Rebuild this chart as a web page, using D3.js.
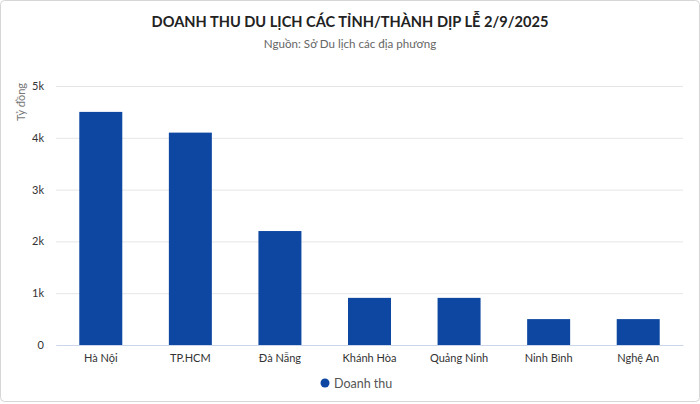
<!DOCTYPE html>
<html>
<head>
<meta charset="utf-8">
<script src="https://cdn.jsdelivr.net/npm/d3@7"></script>
<style>
  html, body { margin: 0; padding: 0; background: #fff; }
  body { width: 700px; height: 404px; overflow: hidden; }
  svg { display: block; font-family: Lato, "Noto Sans", sans-serif; }
</style>
</head>
<body>
<svg id="chart" width="700" height="404"></svg>
<script>
// Chart data.
const provinces = ["Hà Nội", "TP.HCM", "Đà Nẵng", "Khánh Hòa", "Quảng Ninh", "Ninh Bình", "Nghệ An"];
const revenue = [4500, 4100, 2200, 910, 910, 500, 500];
const yTicks = [0, 1000, 2000, 3000, 4000, 5000];
const seriesName = "Doanh thu";

const width = 700, height = 404;
const margin = { top: 86, right: 17, bottom: 59, left: 56 };

const svg = d3.select("#chart");

// Card frame around the whole chart.
svg.append("rect")
  .attr("x", 0.5).attr("y", 0.5)
  .attr("width", width - 1).attr("height", height - 3)
  .attr("rx", 4)
  .attr("fill", "#fff")
  .attr("stroke", "#d6d6d6");

svg.append("text")
  .attr("x", width / 2).attr("y", 27)
  .attr("text-anchor", "middle")
  .attr("font-size", 14.6).attr("font-weight", "bold")
  .attr("fill", "#222")
  .text("DOANH THU DU LỊCH CÁC TỈNH/THÀNH DỊP LỄ 2/9/2025");

svg.append("text")
  .attr("x", width / 2).attr("y", 48)
  .attr("text-anchor", "middle")
  .attr("font-size", 11.6)
  .attr("fill", "#666")
  .text("Nguồn: Sở Du lịch các địa phương");

const x = d3.scaleBand()
  .domain(provinces)
  .range([margin.left, width - margin.right])
  .paddingInner(0.52)
  .paddingOuter(0.26);

const y = d3.scaleLinear()
  .domain([0, 5000])
  .range([height - margin.bottom, margin.top]);

// Gridlines and y labels.
const yAxis = svg.append("g")
  .attr("transform", "translate(" + margin.left + ",0)")
  .call(d3.axisLeft(y)
    .tickValues(yTicks)
    .tickSize(-(width - margin.left - margin.right))
    .tickPadding(12)
    .tickFormat(d => d === 0 ? "0" : (d / 1000) + "k"));
yAxis.select(".domain").remove();
yAxis.selectAll(".tick line").attr("stroke", "#e6e6e6");
yAxis.selectAll(".tick text")
  .attr("font-size", 11).attr("fill", "#333")
  .style("font-family", "Lato, sans-serif");

svg.append("text")
  .attr("transform", "translate(25," + 83 + ") rotate(-90)")
  .attr("text-anchor", "end")
  .attr("font-size", 11)
  .attr("fill", "#777")
  .text("Tỷ đồng");

// Bars.
svg.append("g")
  .selectAll("rect")
  .data(revenue)
  .enter()
  .append("rect")
  .attr("x", (d, i) => x(provinces[i]))
  .attr("y", d => y(d))
  .attr("width", x.bandwidth())
  .attr("height", d => y(0) - y(d))
  .attr("fill", "#0d47a1");

// X axis.
const xAxis = svg.append("g")
  .attr("transform", "translate(0," + y(0) + ")")
  .call(d3.axisBottom(x).tickSize(0).tickPadding(9));
xAxis.select(".domain").attr("stroke", "#ccd6eb");
xAxis.selectAll(".tick text")
  .attr("font-size", 11).attr("fill", "#333")
  .style("font-family", "Lato, sans-serif");

// Legend.
const legend = svg.append("g").attr("transform", "translate(325,383)");
legend.append("circle").attr("r", 4.5).attr("fill", "#0d47a1");
legend.append("text")
  .attr("x", 9).attr("y", 4.5)
  .attr("font-size", 12.5)
  .attr("fill", "#555")
  .text(seriesName);
</script>
</body>
</html>
